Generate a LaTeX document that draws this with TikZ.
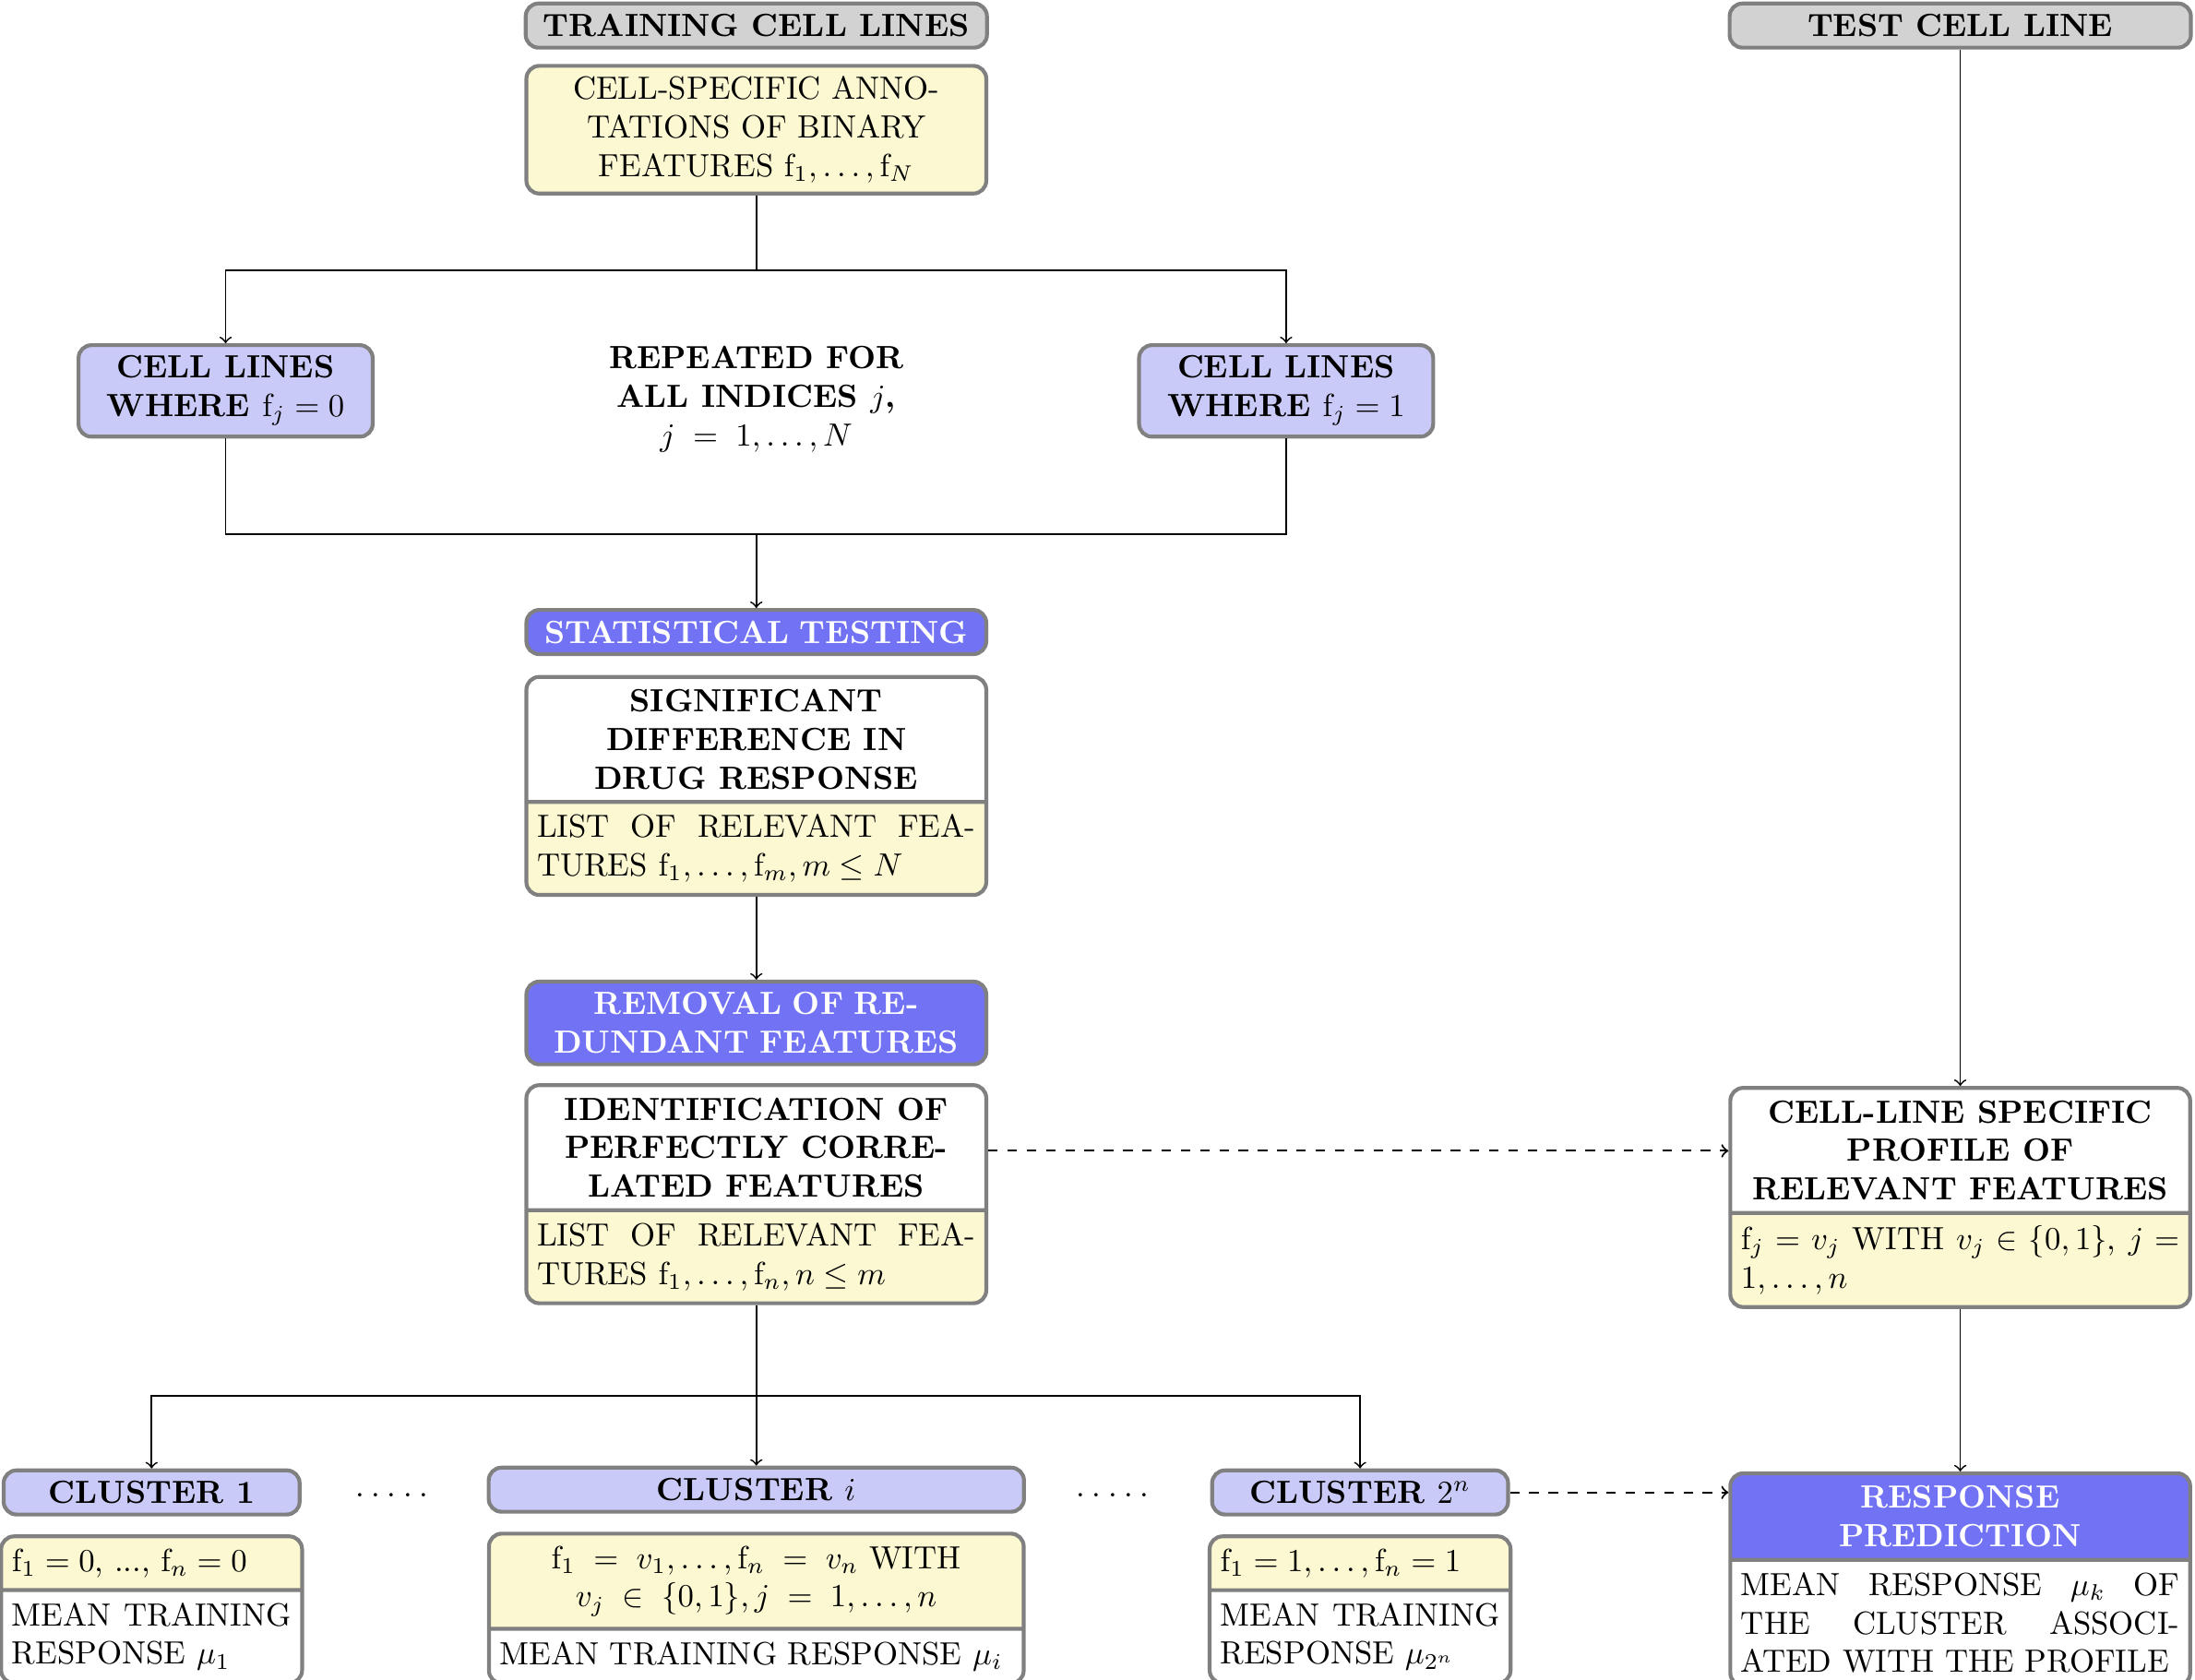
\documentclass[tikz,border=0pt]{standalone}
\usepackage{amsmath}
\usepackage{tikz}
\usetikzlibrary{shapes.multipart}

\definecolor{boxgray}{HTML}{D2D2D2}
\definecolor{annoyellow}{HTML}{FBF8D2}
\definecolor{lavender}{HTML}{CACAF8}
\definecolor{stepblue}{HTML}{7272F4}

\newcommand{\ff}[1]{\mathrm{f}_{#1}}

\begin{document}
\begin{tikzpicture}[
  box/.style={draw=gray, line width=1.2pt, rounded corners, align=center},
  head/.style={box, fill=boxgray, font=\bfseries, minimum width=5.05cm},
  anno/.style={box, fill=annoyellow, text width=4.8cm},
  subset/.style={box, fill=lavender, font=\bfseries, minimum width=3.22cm},
  stage/.style={box, fill=stepblue, text=white, font=\bfseries, text width=4.8cm},
  twopart/.style={box, rectangle split, rectangle split parts=2, align=justify, anchor=north},
  link/.style={->, line width=0.5pt},
  dashlink/.style={->, dashed, line width=0.6pt},
]
\useasboundingbox (0,0) rectangle (24.03,-18.39);
\node[head] (train) at (8.28,-0.28) {TRAINING CELL LINES}; % training set
\node[head] (test) at (21.46,-0.28) {TEST CELL LINE}; % test set
\node[anno] (annot) at (8.28,-1.42) {CELL-SPECIFIC ANNO-\\TATIONS OF BINARY\\FEATURES $\ff{1}, \ldots, \ff{N}$}; % annotations
\node[subset] (fzero) at (2.47,-4.28) {CELL LINES\\WHERE $\ff{j} = 0$}; % f_j = 0
\node[subset] (fone) at (14.08,-4.28) {CELL LINES\\WHERE $\ff{j} = 1$}; % f_j = 1
\node[font=\bfseries, align=center] (repeat) at (8.28,-4.37) {REPEATED FOR\\ALL INDICES $j$,\\$j \;=\; 1, \ldots, N$}; % loop note
\node[stage] (stat) at (8.28,-6.92) {STATISTICAL TESTING}; % testing
\node[twopart, text width=4.8cm, rectangle split part fill={white,annoyellow}] (signif) at (8.28,-7.39) {\centering\bfseries SIGNIFICANT\\DIFFERENCE IN\\DRUG RESPONSE\par\nodepart{two}LIST OF RELEVANT FEA-\linebreak TURES $\ff{1}, \ldots, \ff{m}, m \le N$}; % significant
\node[stage] (removal) at (8.28,-11.2) {REMOVAL OF RE-\\DUNDANT FEATURES}; % removal
\node[twopart, text width=4.8cm, rectangle split part fill={white,annoyellow}] (ident) at (8.28,-11.86) {\centering\bfseries IDENTIFICATION OF\\PERFECTLY CORRE-\\LATED FEATURES\par\nodepart{two}LIST OF RELEVANT FEA-\linebreak TURES $\ff{1}, \ldots, \ff{n}, n \le m$}; % identification
\node[twopart, text width=4.8cm, rectangle split part fill={white,annoyellow}] (profile) at (21.46,-11.89) {\centering\bfseries CELL-LINE SPECIFIC\\PROFILE OF\\RELEVANT FEATURES\par\nodepart{two}$\ff{j} = v_j$ WITH $v_j \in \{0,1\}$, $j =$\linebreak $1, \ldots, n$}; % profile
\node[subset, minimum width=3.24cm] (c1) at (1.66,-16.34) {CLUSTER 1}; % cluster 1
\node[subset, minimum width=5.86cm] (ci) at (8.28,-16.31) {CLUSTER $i$}; % cluster i
\node[subset, minimum width=3.24cm] (c2) at (14.89,-16.34) {CLUSTER $2^n$}; % cluster 2^n
\node (dotsA) at (4.29,-16.37) {.\kern2.2pt.\kern2.2pt.\kern2.2pt.\kern2.2pt.}; % gap
\node (dotsB) at (12.18,-16.37) {.\kern2.2pt.\kern2.2pt.\kern2.2pt.\kern2.2pt.}; % gap
\node[twopart, text width=3.06cm, rectangle split part fill={annoyellow,white}] (c1info) at (1.66,-16.8) {$\ff{1} = 0$, ..., $\ff{n} = 0$\nodepart{two}MEAN TRAINING RESPONSE $\mu_1$}; % cluster 1 mean
\node[twopart, text width=5.62cm, rectangle split part fill={annoyellow,white}] (ciinfo) at (8.28,-16.77) {\centering $\ff{1} \;=\; v_1, \ldots, \ff{n} \;=\; v_n$ WITH\\$v_j \;\in\; \{0,1\}, j \;=\; 1, \ldots, n$\par\nodepart{two}MEAN TRAINING RESPONSE $\mu_i$}; % cluster i mean
\node[twopart, text width=3.06cm, rectangle split part fill={annoyellow,white}] (c2info) at (14.89,-16.8) {$\ff{1} = 1, \ldots, \ff{n} = 1$\nodepart{two}MEAN TRAINING RESPONSE $\mu_{2^n}$}; % cluster 2^n mean
\node[twopart, text width=4.8cm, rectangle split part fill={stepblue,white}] (resp) at (21.46,-16.11) {\color{white}\centering\bfseries RESPONSE\\PREDICTION\par\nodepart{two}MEAN RESPONSE $\mu_k$ OF\linebreak THE CLUSTER ASSOCI-\linebreak ATED WITH THE PROFILE}; % prediction
\coordinate (fork) at (8.28,-2.96); % split by f_j
\draw[line width=0.5pt] (annot.south) -- (fork); % annotations out
\draw[link] (fork) -| (fzero.north); % to f_j = 0
\draw[link] (fork) -| (fone.north); % to f_j = 1
\coordinate (merge) at (8.28,-5.85); % join
\draw[line width=0.5pt] (fzero.south) |- (merge); % from f_j = 0
\draw[line width=0.5pt] (fone.south) |- (merge); % from f_j = 1
\draw[link] (merge) -- (stat.north); % to testing
\draw[link] (signif.south) -- (removal.north); % to removal
\coordinate (identout) at ([yshift=-0.74cm]ident.north east); % profile link
\draw[dashlink] (identout) -- (identout -| profile.west); % to profile
\coordinate (fork2) at (8.28,-15.28); % split by profile
\draw[line width=0.5pt] (ident.south) -- (fork2); % features out
\draw[link] (fork2) -| (c1.north); % to cluster 1
\draw[link] (fork2) -- (ci.north); % to cluster i
\draw[link] (fork2) -| (c2.north); % to cluster 2^n
\draw[link] (test.south) -- (profile.north); % test line in
\draw[link] (profile.south) -- (resp.north); % to prediction
\draw[dashlink] (c2.east) -- (c2.east -| resp.west); % cluster to prediction
\end{tikzpicture}
\end{document}
